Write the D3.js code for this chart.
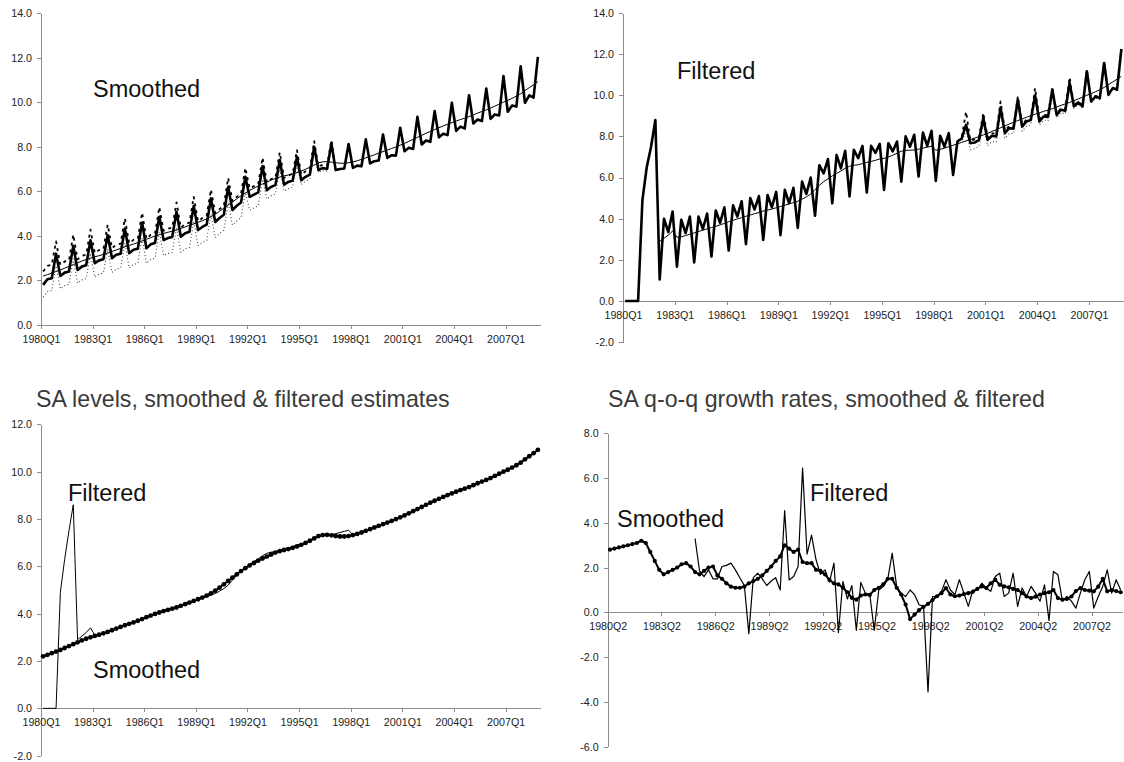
<!DOCTYPE html>
<html><head><meta charset="utf-8">
<script src="https://cdn.jsdelivr.net/npm/d3@7"></script>
<style>
html,body{margin:0;padding:0;background:#fff;}
svg{display:block;font-family:"Liberation Sans",Arial,sans-serif;}
.axis path,.axis line{stroke:#8c8c8c;stroke-width:1;shape-rendering:crispEdges;}
.axis text{font-size:10.7px;fill:#222;font-family:"Liberation Sans",Arial,sans-serif;}
</style></head><body>
<svg id="c" width="1124" height="762"></svg>
<script>
// ---------- categories & tick labels ----------
const years = d3.range(1980, 2009);
const quarters = years.flatMap(y => [1,2,3,4].map(q => y + "Q" + q));      // 1980Q1..2008Q4
const quartersGrowth = quarters.slice(1);                                   // 1980Q2..2008Q4
const tickLabelsQ1 = ["1980Q1","1983Q1","1986Q1","1989Q1","1992Q1","1995Q1","1998Q1","2001Q1","2004Q1","2007Q1"];
const tickLabelsQ2 = ["1980Q2","1983Q2","1986Q2","1989Q2","1992Q2","1995Q2","1998Q2","2001Q2","2004Q2","2007Q2"];

// ---------- panel 1: smoothed ----------
const smoothedData = [
1.80,2.05,2.10,3.20, 2.20,2.35,2.40,3.55, 2.47,2.62,2.68,3.80, 2.77,2.90,2.95,4.04,
3.00,3.15,3.20,4.33, 3.22,3.38,3.42,4.60, 3.44,3.62,3.68,4.86, 3.81,3.90,3.95,5.08,
3.96,4.12,4.18,5.34, 4.26,4.40,4.50,5.68, 4.62,4.80,4.95,6.20, 5.16,5.35,5.50,6.65,
5.75,5.85,5.95,7.13, 6.05,6.20,6.28,7.40, 6.30,6.42,6.48,7.55, 6.50,6.65,6.75,8.00,
6.95,7.05,7.00,8.15, 6.95,7.00,7.02,8.12, 7.05,7.15,7.12,8.33, 7.25,7.35,7.38,8.55,
7.50,7.62,7.60,8.85, 7.80,7.95,7.90,9.34, 8.10,8.28,8.22,9.60, 8.42,8.58,8.52,9.97,
8.71,8.90,8.82,10.31, 9.04,9.22,9.15,10.61, 9.25,9.45,9.40,11.17, 9.57,9.85,9.80,11.61,
9.97,10.30,10.20,12.03];
const smoothedUpper = [
2.40,2.65,2.70,3.75, 2.70,2.85,2.90,4.05, 2.95,3.10,3.16,4.28, 3.23,3.36,3.41,4.50,
3.45,3.60,3.65,4.78, 3.66,3.82,3.86,5.04, 3.87,4.05,4.11,5.29, 4.23,4.32,4.37,5.50,
4.37,4.53,4.59,5.75, 4.66,4.80,4.90,6.08, 5.02,5.20,5.35,6.60, 5.56,5.75,5.90,7.05,
6.13,6.23,6.33,7.51, 6.40,6.55,6.63,7.75, 6.60,6.72,6.78,7.85, 6.75,6.90,7.00,8.25,
7.10,7.20,7.15,8.30, 6.95];
const smoothedLower = [
1.25,1.50,1.55,2.65, 1.62,1.77,1.82,2.97, 1.87,2.02,2.08,3.20, 2.15,2.28,2.33,3.42,
2.36,2.51,2.56,3.69, 2.56,2.72,2.76,3.94, 2.76,2.94,3.00,4.18, 3.11,3.20,3.25,4.38,
3.26,3.42,3.48,4.64, 3.56,3.70,3.80,4.98, 3.92,4.10,4.25,5.50, 4.48,4.67,4.82,5.97,
5.15,5.25,5.35,6.53, 5.65,5.80,5.88,7.00, 6.00,6.12,6.18,7.25, 6.30,6.45,6.55,7.80,
6.85,6.95,6.90,8.05, 6.95];
// SA level, smoothed (panel 1 trend and panel 3)
const saSmoothed = [
2.20,2.26,2.33,2.40, 2.47,2.55,2.63,2.71, 2.79,2.87,2.94,3.00, 3.06,3.11,3.17,3.23,
3.30,3.37,3.44,3.51, 3.57,3.63,3.70,3.77, 3.85,3.92,3.99,4.05, 4.11,4.16,4.21,4.26,
4.33,4.40,4.47,4.54, 4.61,4.68,4.76,4.86, 4.97,5.10,5.24,5.38, 5.52,5.66,5.80,5.92,
6.04,6.14,6.24,6.33, 6.41,6.50,6.58,6.64, 6.69,6.73,6.78,6.84, 6.91,6.99,7.08,7.18,
7.28,7.32,7.33,7.31, 7.28,7.26,7.26,7.28, 7.32,7.37,7.43,7.50, 7.57,7.64,7.71,7.78,
7.85,7.92,7.99,8.07, 8.15,8.24,8.33,8.42, 8.51,8.60,8.69,8.77, 8.85,8.93,9.01,9.08,
9.15,9.22,9.28,9.35, 9.43,9.51,9.58,9.65, 9.73,9.82,9.91,10.00, 10.08,10.17,10.27,10.38,
10.52,10.65,10.78,10.92];

// ---------- panel 2: filtered ----------
const filteredData = [
0,0,0,0, 4.90,6.50,7.50,8.80, 1.05,4.00,3.35,4.35, 1.67,3.95,3.30,4.10,
1.87,4.10,3.50,4.25, 2.16,4.40,3.80,4.55, 2.45,4.65,4.10,4.85, 2.76,5.00,4.45,5.10,
2.97,5.15,4.55,5.30, 3.20,5.40,4.75,5.50, 3.55,5.80,5.20,6.00, 4.14,6.60,6.20,6.90,
4.75,7.10,6.45,7.30, 5.08,7.35,6.94,7.54, 5.27,7.54,7.20,7.64, 5.40,7.67,7.27,7.75,
5.80,8.00,7.50,8.08, 6.05,8.19,7.54,8.27, 5.84,8.03,7.50,8.16, 6.13,7.75,7.90,8.56,
7.67,7.70,7.83,8.90, 7.83,8.03,8.00,9.40, 8.16,8.40,8.38,9.78, 8.48,8.73,8.80,10.00,
8.73,8.97,8.95,10.27, 9.05,9.30,9.25,10.60, 9.46,9.65,9.46,11.16, 9.70,9.94,9.86,11.57,
10.02,10.35,10.27,12.25];
const filteredUpper = [
null,7.75,7.95,9.20, 7.80,7.85,7.95,9.15, 7.95,8.15,8.12,9.70, 8.28,8.50,8.48,9.95,
8.58,8.82,8.88,10.35, 8.82,9.05,9.03,10.42, 9.12,9.36,9.31,10.88, 9.51,9.70,9.51,11.25,
9.73,9.97,9.89,11.62, 10.04,10.37,10.29,12.25];   // 1999Q1..2008Q4
const filteredLower = [
null,7.75,7.70,8.30, 7.35,7.40,7.52,8.60, 7.55,7.75,7.72,9.15, 7.90,8.15,8.13,9.55,
8.25,8.50,8.57,9.80, 8.55,8.79,8.77,10.10, 8.90,9.15,9.10,10.48, 9.36,9.55,9.36,11.08,
9.63,9.87,9.79,11.52, 10.00,10.33,10.25,12.25];   // 1999Q1..2008Q4
// SA level, filtered (panel 3; panel 2 trend from 1982Q1)
const saFiltered = [
0,0,0,0, 4.90,6.30,7.50,8.60, 2.90,3.05,3.20,3.40, 3.10,3.12,3.18,3.24,
3.31,3.38,3.44,3.51, 3.57,3.63,3.70,3.77, 3.85,3.92,3.99,4.05, 4.12,4.18,4.24,4.30,
4.37,4.42,4.47,4.53, 4.59,4.65,4.72,4.78, 4.85,4.95,5.06,5.20, 5.42,5.62,5.80,5.94,
6.08,6.20,6.32,6.45, 6.55,6.60,6.62,6.68, 6.74,6.78,6.84,6.90, 6.93,7.00,7.08,7.18,
7.28,7.32,7.33,7.34, 7.38,7.43,7.48,7.52, 7.33,7.37,7.43,7.50, 7.57,7.64,7.71,7.78,
7.85,7.92,7.99,8.07, 8.15,8.24,8.33,8.42, 8.51,8.60,8.69,8.77, 8.85,8.93,9.01,9.08,
9.15,9.22,9.28,9.35, 9.43,9.51,9.58,9.65, 9.73,9.82,9.91,10.00, 10.08,10.17,10.27,10.38,
10.52,10.65,10.78,10.92];

// ---------- panel 4: q-o-q growth (1980Q2..2008Q4) ----------
const growthSmoothed = [
2.80,2.85,2.90,2.95, 3.00,3.05,3.10,3.20, 3.10,2.70,2.30,1.90, 1.70,1.80,1.90,2.00,
2.15,2.20,2.05,1.80, 1.70,1.85,2.00,2.05, 1.65,1.50,1.30,1.15, 1.10,1.10,1.15,1.30,
1.40,1.50,1.65,1.85, 2.05,2.30,2.50,3.00, 2.85,2.70,2.80,2.25, 2.20,2.20,1.90,1.85,
1.70,1.45,1.30,1.25, 1.10,0.90,0.65,0.57, 0.75,0.80,0.78,1.00, 1.10,1.25,1.50,1.50,
1.10,0.80,0.35,-0.30, -0.10,0.10,0.25,0.38, 0.55,0.72,0.86,1.09, 0.80,0.72,0.75,0.82,
0.86,0.92,1.05,1.16, 1.09,1.30,1.46,1.23, 1.16,1.12,1.05,1.00, 0.86,0.71,0.64,0.70,
0.80,0.86,0.90,1.00, 0.64,0.57,0.60,0.71, 0.95,1.09,1.00,0.97, 0.94,1.15,1.50,0.94,
1.00,0.95,0.90];
const growthFiltered = [
null,null,null,null, null,null,null,null, null,null,null,null, null,null,null,null,
null,null,null,3.30, 1.85,1.60,1.90,1.50, 1.50,2.05,2.10,2.20, 1.90,1.55,1.20,-0.95,
1.55,1.75,1.50,1.20, 1.40,1.55,1.00,4.55, 1.45,1.60,2.05,6.45, 2.60,3.45,2.35,1.70,
1.90,1.35,2.20,-0.90, 1.38,0.60,1.20,-0.80, 1.34,0.86,0.80,-0.80, 1.00,1.16,1.46,2.65,
1.16,0.86,0.71,1.00, 0.79,0.34,0.27,-3.55, 0.71,0.71,0.94,1.46, 1.00,0.79,1.46,0.86,
0.27,1.00,1.00,1.30, 1.09,0.94,1.60,1.75, 0.71,0.86,1.75,0.27, 1.09,0.71,1.16,0.86,
0.50,1.23,-0.36,1.83, 1.68,0.50,0.71,0.50, 0.19,0.86,1.46,1.83, 0.19,0.71,1.16,1.90,
0.86,1.46,1.00];

// ---------- drawing ----------
const svg = d3.select("#c");
const fmt = d => d.toFixed(1);
const tickIdx = d3.range(0, 109, 12);

function panel(o) {
  const n = o.n;
  const x = d3.scaleLinear().domain([0, n]).range([o.x0, o.x0 + n * o.w]);
  const y = d3.scaleLinear().domain(o.domain).range([o.yBot, o.yTop]);
  const g = svg.append("g");
  g.append("g").attr("class", "axis").attr("transform", `translate(${o.x0},0)`)
    .call(d3.axisLeft(y).tickValues(d3.range(o.domain[0], o.domain[1] + 0.01, 2))
      .tickFormat(fmt).tickSize(4).tickSizeOuter(0).tickPadding(5));
  g.append("g").attr("class", "axis").attr("transform", `translate(0,${y(0)})`)
    .call(d3.axisBottom(x).tickValues(tickIdx).tickFormat((d, i) => o.labels[i])
      .tickSize(4).tickSizeOuter(0).tickPadding(6));
  const line = (off) => d3.line().defined(d => d != null)
    .x((d, i) => x(i + off + 0.5)).y(d => y(d));
  return {g, x, y, line};
}

function draw(p, data, off, style) {
  p.g.append("path").attr("d", p.line(off)(data)).attr("fill", "none")
    .attr("stroke", style.color || "#000").attr("stroke-width", style.w)
    .attr("stroke-dasharray", style.dash || null)
    .attr("stroke-linejoin", "round");
}
function markers(p, data, r) {
  p.g.append("g").selectAll("circle").data(data).join("circle")
    .attr("cx", (d, i) => p.x(i + 0.5)).attr("cy", d => p.y(d)).attr("r", r).attr("fill", "#000");
}
function label(txt, x, y, size) {
  svg.append("text").attr("x", x).attr("y", y).attr("font-size", size)
    .attr("fill", "#111").text(txt);
}

// Panel 1
const p1 = panel({x0: 41, w: 4.302, n: quarters.length, domain: [0, 14], yBot: 325, yTop: 13, labels: tickLabelsQ1});
draw(p1, saSmoothed, 0, {w: 1});
draw(p1, smoothedLower, 0, {w: 1.1, dash: "1,2.4", color: "#444"});
draw(p1, smoothedUpper, 0, {w: 1.8, dash: "3,4"});
draw(p1, smoothedData, 0, {w: 2.6});
label("Smoothed", 93, 97, "23.5px");

// Panel 2
const p2 = panel({x0: 623, w: 4.315, n: quarters.length, domain: [-2, 14], yBot: 342.1, yTop: 13, labels: tickLabelsQ1});
draw(p2, saFiltered.slice(8), 8, {w: 1});
draw(p2, filteredLower, 76, {w: 1.1, dash: "1,2.4", color: "#444"});
draw(p2, filteredUpper, 76, {w: 1.8, dash: "3,4"});
draw(p2, filteredData, 0, {w: 2.6});
label("Filtered", 677, 79, "23.5px");

// Panel 3
const p3 = panel({x0: 41, w: 4.302, n: quarters.length, domain: [-2, 12], yBot: 755.7, yTop: 424.3, labels: tickLabelsQ1});
draw(p3, saFiltered, 0, {w: 1});
draw(p3, saSmoothed, 0, {w: 2});
markers(p3, saSmoothed, 2.4);
label("Filtered", 68, 501, "23.5px");
label("Smoothed", 93, 678, "23.5px");
svg.append("text").attr("x", 36).attr("y", 407).attr("font-size", "23.2px").attr("fill", "#3a3a3a")
  .text("SA levels, smoothed & filtered estimates");

// Panel 4
const p4 = panel({x0: 607.7, w: 4.48, n: quartersGrowth.length, domain: [-6, 8], yBot: 746.7, yTop: 433.3, labels: tickLabelsQ2});
draw(p4, growthSmoothed, 0, {w: 2});
markers(p4, growthSmoothed, 2.1);
draw(p4, growthFiltered, 0, {w: 1.2});
label("Smoothed", 617, 527, "23.5px");
label("Filtered", 810, 501, "23.5px");
svg.append("text").attr("x", 608).attr("y", 407).attr("font-size", "23.2px").attr("fill", "#3a3a3a")
  .text("SA q-o-q growth rates, smoothed & filtered");
</script>
</body></html>
